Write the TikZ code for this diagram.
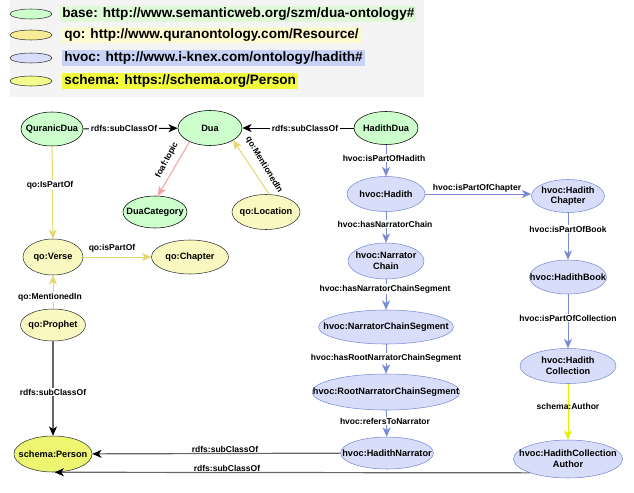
\documentclass[tikz,border=0pt]{standalone}
\usepackage{fontspec}
\setmainfont{Liberation Sans}
\usetikzlibrary{shapes.geometric,arrows.meta}

\definecolor{duagreen}{HTML}{CCFFCC}
\definecolor{qoyellow}{HTML}{F8F8C0}
\definecolor{schemayellow}{HTML}{EEF570}
\definecolor{hvocblue}{HTML}{D8DEF9}
\definecolor{hvocline}{HTML}{7A8AD4}
\definecolor{qoline}{HTML}{E6D66A}
\definecolor{topicline}{HTML}{F5A0A0}
\definecolor{authorline}{HTML}{E4F200}
\definecolor{legendbg}{HTML}{F4F4F4}

\begin{document}
\begin{tikzpicture}[x=0.75pt,y=-0.75pt,
  every node/.style={font=\bfseries\fontsize{6.9}{8}\selectfont},
  sz/.style 2 args={minimum width=#1*0.75pt, minimum height=#2*0.75pt},
  gnode/.style={ellipse, draw=black, fill=duagreen, inner sep=0pt, label={[align=center]center:{#1}}},
  ynode/.style={ellipse, draw=black!80, fill=qoyellow, inner sep=0pt, label={[align=center]center:{#1}}},
  bnode/.style={ellipse, draw=hvocline, fill=hvocblue, inner sep=0pt, label={[align=center]center:{#1}}},
  lbl/.style={font=\bfseries\fontsize{6.4}{7}\selectfont, inner sep=1pt},
  lblw/.style={lbl, fill=white},
  legtext/.style={font=\bfseries\fontsize{10.2}{12}\selectfont, anchor=west, inner sep=1.5pt},
  legell/.style={ellipse, draw=black!80, sz={42}{10}, inner sep=0pt},
  rdfs/.style={draw=black, line width=0.75pt, -{Stealth[length=7pt,width=6pt,inset=2pt,black]}},
  grey/.style={draw=black!60, line width=0.9pt, -{Stealth[length=7pt,width=6pt,inset=2pt,black]}},
  qo/.style={draw=qoline, line width=0.75pt, -{Stealth[length=7pt,width=6pt,inset=2pt]}},
  topic/.style={draw=topicline, line width=0.75pt, -{Stealth[length=7pt,width=6pt,inset=2pt]}},
  hvoc/.style={draw=hvocline, line width=0.75pt, -{Stealth[length=7pt,width=6pt,inset=2pt]}},
  author/.style={draw=authorline, line width=0.75pt, -{Stealth[length=7pt,width=6pt,inset=2pt]}}]

  \useasboundingbox (0,0) rectangle (634,492);

  % Legend
  \fill[legendbg] (10,0) rectangle (424,97);
  \node[legell, fill=duagreen] (legbase) at (31,14) {};
  \node[legell, fill={rgb,255:red,249;green,236;blue,150}] (legqo) at (31,35) {};
  \node[legell, fill=hvocblue] (leghvoc) at (31,58) {};
  \node[legell, fill={rgb,255:red,245;green,250;blue,140}] (legschema) at (31,81) {};
  \node[legtext, fill={rgb,255:red,222;green,250;blue,216}] (txtbase) at (60,14) {base: http://www.semanticweb.org/szm/dua-ontology\#};
  \node[legtext, fill={rgb,255:red,252;green,250;blue,208}] (txtqo) at (62,35) {qo: http://www.quranontology.com/Resource/};
  \node[legtext, fill={rgb,255:red,200;green,210;blue,246}] (txthvoc) at (62,58) {hvoc: http://www.i-knex.com/ontology/hadith\#};
  \node[legtext, fill={rgb,255:red,242;green,250;blue,60}] (txtschema) at (62,81) {schema: https://schema.org/Person};

  % Dua part
  \node[gnode=QuranicDua, sz={62}{34}] (qdua) at (52,129) {};
  \node[gnode=Dua, sz={64}{35}] (dua) at (210,128) {};
  \node[gnode=HadithDua, sz={64}{33}] (hdua) at (386,128) {};
  \node[gnode=DuaCategory, sz={64}{32}] (duacat) at (155,212) {};
  \node[ynode=qo:Location, sz={68}{35}] (loc) at (266,212) {};
  \node[ynode=qo:Verse, sz={60}{36}] (verse) at (53,257) {};
  \node[ynode=qo:Chapter, sz={77}{34}] (chapter) at (190,257) {};
  \node[ynode=qo:Prophet, sz={65}{32}] (prophet) at (53,325) {};
  \node[ynode=schema:Person, fill=schemayellow, sz={78}{36}] (person) at (53,454) {};

  % Hadith part
  \node[bnode=hvoc:Hadith, sz={78}{35}] (hadith) at (386,194) {};
  \node[bnode={hvoc:Hadith\\Chapter}, sz={73}{33}] (hchapter) at (568,196) {};
  \node[bnode={hvoc:Narrator\\Chain}, sz={76}{36}] (nchain) at (386,261) {};
  \node[bnode=hvoc:HadithBook, sz={77}{34}] (hbook) at (568,277) {};
  \node[bnode=hvoc:NarratorChainSegment, sz={135}{34}] (ncs) at (386,327) {};
  \node[bnode=hvoc:RootNarratorChainSegment, sz={148}{36}] (rncs) at (386,392) {};
  \node[bnode=hvoc:HadithNarrator, sz={93}{32}] (narrator) at (387,453) {};
  \node[bnode={hvoc:Hadith\\Collection}, sz={96}{35}] (hcoll) at (568,366) {};
  \node[bnode={hvoc:HadithCollection\\Author}, sz={109}{38}] (author) at (568,459) {};

  % Connectors
  \draw[rdfs] (qdua) -- (dua);
  \draw[rdfs] (hdua) -- (dua);
  \draw[qo] (qdua) -- (verse);
  \draw[topic] (dua.214) -- (duacat.80);
  \draw[qo] (loc.80) -- (dua.-28);
  \draw[qo] (verse) -- (chapter);
  \draw[qo] (prophet) -- (verse);
  \draw[grey] (prophet) -- (person);
  \draw[grey] (narrator) -- (person);
  \draw[grey] (author.200) -- (person.-85);
  \draw[hvoc] (hdua) -- (hadith);
  \draw[hvoc] (hadith) -- (hadith -| hchapter.west);
  \draw[hvoc] (hadith) -- (nchain);
  \draw[hvoc] (hchapter) -- (hbook);
  \draw[hvoc] (nchain) -- (ncs);
  \draw[hvoc] (ncs) -- (rncs);
  \draw[hvoc] (rncs) -- (narrator);
  \draw[hvoc] (hbook) -- (hcoll);
  \draw[author] (hcoll) -- (author);

  % Connector labels
  \node[lblw] (l1) at (124,128) {rdfs:subClassOf};
  \node[lblw] (l2) at (305,128) {rdfs:subClassOf};
  \node[lblw] (l3) at (50,185) {qo:IsPartOf};
  \node[lbl, rotate=62] (l4) at (167,160) {foaf:topic};
  \node[lbl, rotate=-59] (l5) at (264,165) {qo:MentionedIn};
  \node[lbl] (l6) at (112,248) {qo:isPartOf};
  \node[lblw] (l7) at (50,297) {qo:MentionedIn};
  \node[lblw] (l8) at (53,392) {rdfs:subClassOf};
  \node[lbl] (l9) at (225,449) {rdfs:subClassOf};
  \node[lbl] (l10) at (227,468) {rdfs:subClassOf};
  \node[lblw] (l11) at (384,158) {hvoc:isPartOfHadith};
  \node[lbl] (l12) at (477,188) {hvoc:isPartOfChapter};
  \node[lblw] (l13) at (385,224) {hvoc:hasNarratorChain};
  \node[lblw] (l14) at (568,229) {hvoc:isPartOfBook};
  \node[lblw] (l15) at (385,289) {hvoc:hasNarratorChainSegment};
  \node[lblw] (l16) at (386,358) {hvoc:hasRootNarratorChainSegment};
  \node[lblw] (l17) at (385,421) {hvoc:refersToNarrator};
  \node[lblw] (l18) at (568,318) {hvoc:isPartOfCollection};
  \node[lbl] (l19) at (568,406) {schema:Author};
\end{tikzpicture}
\end{document}
